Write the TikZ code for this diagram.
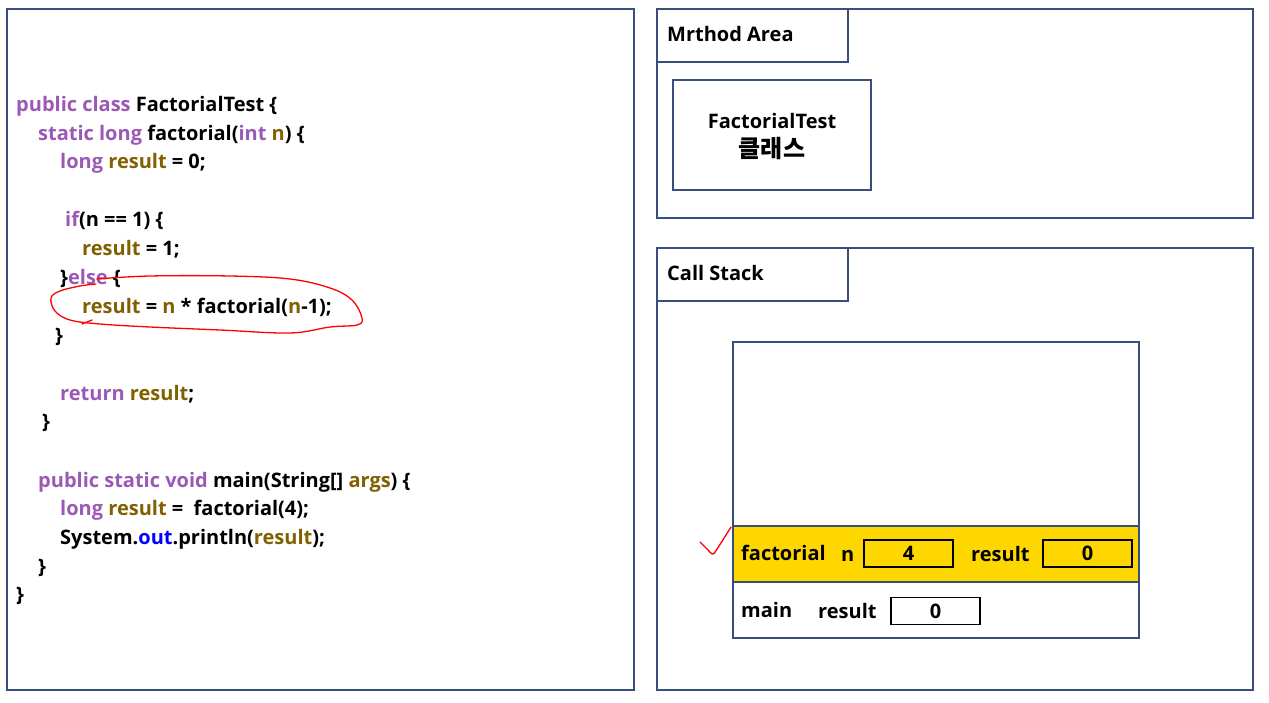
\documentclass[tikz,border=0pt]{standalone}
\usepackage{fontspec}
\setmainfont{Open Sans}
\newfontfamily\kr{Noto Sans CJK KR}
\definecolor{kwc}{RGB}{155,89,182}
\definecolor{varc}{RGB}{128,96,0}
\definecolor{outc}{RGB}{0,0,255}
\definecolor{framec}{RGB}{56,78,125}
\definecolor{yelc}{RGB}{255,215,0}
\newcommand\cK[1]{\textcolor{kwc}{#1}}
\newcommand\cV[1]{\textcolor{varc}{#1}}
\newcommand\cB[1]{\textcolor{outc}{#1}}
\tikzset{
  code/.style={anchor=base west,inner sep=0pt,font=\bfseries\fontsize{20}{24}\selectfont},
  lbl/.style={anchor=base west,inner sep=0pt,font=\bfseries\fontsize{20}{24}\selectfont},
  panel/.style={draw=framec,line width=1.6pt},
  valbox/.style={draw=black,line width=1.3pt,minimum width=89pt,minimum height=27pt,inner sep=0pt,font=\bfseries\fontsize{20}{24}\selectfont},
  redpen/.style={draw=red,line width=1.3pt,line cap=round,line join=round}
}
\begin{document}
\begin{tikzpicture}[x=1pt,y=-1pt]
\useasboundingbox (0,0) rectangle (1269,703);
% left panel
\draw[panel] (7,9) rectangle (634,690);
\node[code] (l1) at (16,111.5) {\cK{public class} FactorialTest \{};
\node[code] (l2) at (38,140.5) {\cK{static long} factorial(\cK{int} \cV{n}) \{};
\node[code] (l3) at (60,169) {\cK{long} \cV{result} = 0;};
\node[code] (l4) at (65,227) {\cK{if}(n == 1) \{};
\node[code] (l5) at (82,256) {\cV{result} = 1;};
\node[code] (l6) at (60,285) {\}\cK{else} \{};
\node[code] (l7) at (82,314) {\cV{result} = \cV{n} * factorial(\cV{n}-1);};
\node[code] (l8) at (55,342) {\}};
\node[code] (l9) at (60,400) {\cK{return} \cV{result};};
\node[code] (l10) at (42,428) {\}};
\node[code] (l11) at (38,487) {\cK{public static void} main(String[] \cV{args}) \{};
\node[code] (l12) at (60,515) {\cK{long} \cV{result} =\ \ factorial(4);};
\node[code] (l13) at (60,544) {System.\cB{out}.println(\cV{result});};
\node[code] (l14) at (38,573) {\}};
\node[code] (l15) at (16,601) {\}};
% red loop
\draw[redpen] plot[smooth,tension=0.6] coordinates {(97,279) (150,276) (230,276) (290,279) (330,288) (352,300) (362,318) (357,325) (330,327) (290,333) (220,330) (150,327) (100,324) (70,320) (55,311) (51,298) (60,291) (80,286) (96,284)};
\draw[redpen] (82,324) -- (92,320);
% method area
\draw[panel] (657,9) rectangle (1253,218);
\draw[panel] (657,9) rectangle (848,62);
\node[lbl] (ma) at (667,42) {Mrthod Area};
\draw[panel] (673,80) rectangle (871,190);
\node[font=\bfseries\fontsize{20}{24}\selectfont,inner sep=0pt] (cls1) at (772,121) {FactorialTest};
\node[font=\kr\bfseries\fontsize{24}{28}\selectfont,inner sep=0pt] (cls2) at (772,149) {클래스};
% call stack
\draw[panel] (657,248) rectangle (1253,690);
\draw[panel] (657,248) rectangle (848,301);
\node[lbl] (cs) at (667,281) {Call Stack};
\fill[yelc] (733,526) rectangle (1139,582);
\draw[panel] (733,342) rectangle (1139,638);
\draw[panel] (733,526) -- (1139,526);
\draw[panel] (733,582) -- (1139,582);
\node[lbl] (ff) at (741,560) {factorial};
\node[lbl] (fn) at (841,561) {n};
\node[valbox] (fnv) at (908.5,553.5) {4};
\node[lbl] (fr) at (971,561) {result};
\node[valbox] (frv) at (1087.5,553.5) {0};
\node[lbl] (mm) at (741,617) {main};
\node[lbl] (mr) at (818,618) {result};
\node[valbox] (mrv) at (935.5,611) {0};
% check mark
\draw[redpen] plot[smooth,tension=0.5] coordinates {(700,542) (707,549) (713,554) (719,546) (731,527)};
\end{tikzpicture}
\end{document}
